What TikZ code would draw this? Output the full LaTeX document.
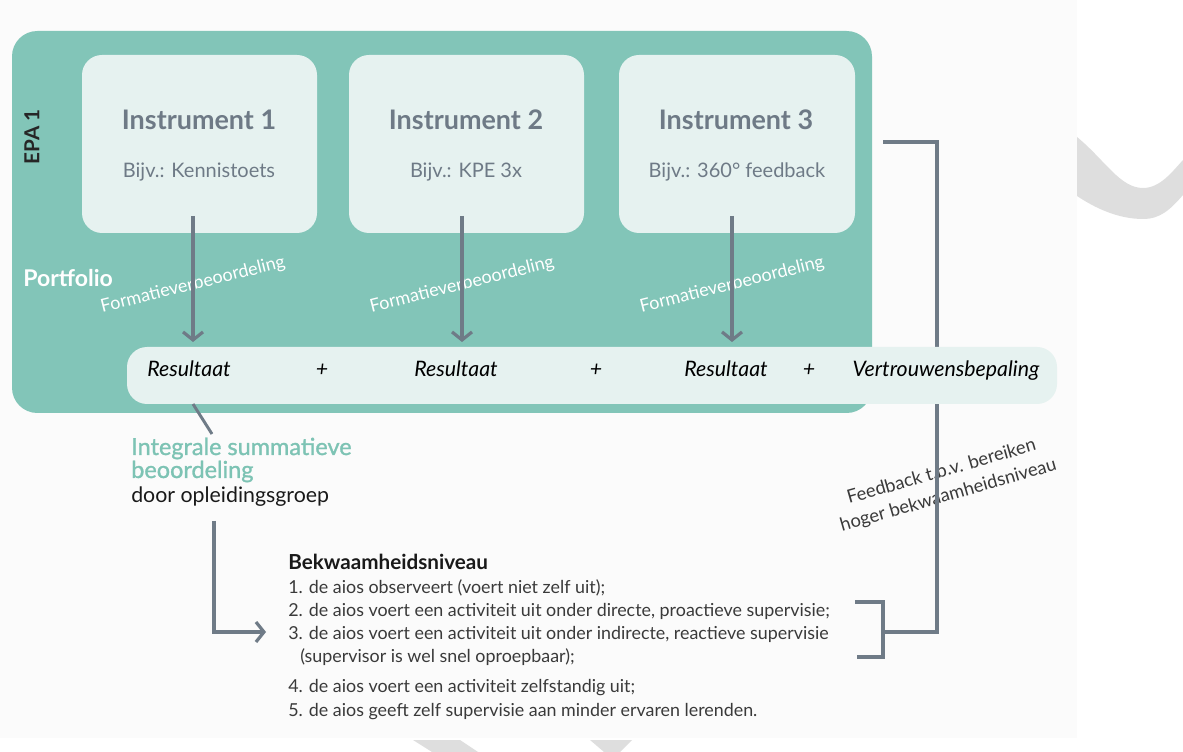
\documentclass[tikz,border=0pt]{standalone}
\usepackage{fontspec}
\setmainfont{Lato}
\newfontfamily\latosemi[FakeBold=1.2]{Lato}
\usetikzlibrary{arrows.meta,fit}
\definecolor{panelgreen}{HTML}{82C5B8}
\definecolor{boxlight}{HTML}{E6F2F0}
\definecolor{linegrey}{HTML}{6F7B87}
\definecolor{instrtext}{HTML}{6E7A86}
\definecolor{bodytext}{HTML}{3A3A3A}
\definecolor{intgreen}{HTML}{7DC3B4}
\definecolor{wmgrey}{HTML}{DEDEDE}
\definecolor{bgoff}{HTML}{FBFBFB}
\tikzset{
  instrbox/.style={fill=boxlight, rounded corners=15pt, inner sep=0pt},
  instrtitle/.style={font=\fontsize{20.2}{23}\selectfont\bfseries, text=instrtext, anchor=base},
  instrsub/.style={font=\fontsize{15}{18}\selectfont, text=instrtext, anchor=base},
  formtext/.style={font=\fontsize{13.5}{16}\selectfont, text=white, rotate=14},
  bartext/.style={font=\fontsize{16}{19}\selectfont\itshape, text=black, anchor=base},
  listitem/.style={font=\fontsize{13.4}{15}\selectfont, text=bodytext, anchor=base west, inner sep=0pt},
  greyline/.style={draw=linegrey, line width=2.4pt},
  greyarrow/.style={greyline, -{Straight Barb[length=6pt, width=15pt]}},
}
\begin{document}
\begin{tikzpicture}[x=0.75pt,y=-0.75pt]
\useasboundingbox (0,0) rectangle (1183,752);
\fill[bgoff] (0,0) rectangle (1077,738);
% watermark fragments
\fill[wmgrey] (1077,137) .. controls (1105,160) and (1120,188) .. (1143,188)
  .. controls (1160,188) and (1172,172) .. (1183,160) -- (1183,195)
  .. controls (1170,210) and (1160,219) .. (1143,219)
  .. controls (1118,219) and (1095,208) .. (1077,196) -- cycle;
\fill[wmgrey] (413,740) -- (460,740) -- (478,752) -- (432,752) -- cycle;
\fill[wmgrey] (590,740) -- (632,740) -- (620,752) -- (604,752) -- cycle;

% main panel
\node[fit={(12,31) (872,413)}, inner sep=0pt, fill=panelgreen, rounded corners=19pt] (panel) {};
\node[rotate=90, font=\fontsize{15.5}{18}\selectfont\bfseries, text=black!85] (epa) at (32,137) {EPA 1};
\node[font=\fontsize{17.3}{20}\selectfont\bfseries, text=white, anchor=base west, inner sep=0pt] (portfolio) at (23,287) {Portfolio};

% instrument boxes
\node[instrbox, fit={(82,55) (317,233)}] (i1) {};
\node[instrbox, fit={(349,55) (584,233)}] (i2) {};
\node[instrbox, fit={(619,55) (855,233)}] (i3) {};
\node[instrtitle] (t1) at (199,130) {Instrument 1};
\node[instrtitle] (t2) at (466,130) {Instrument 2};
\node[instrtitle] (t3) at (736,130) {Instrument 3};
\node[instrsub] (s1) at (199,178) {Bijv.: Kennistoets};
\node[instrsub] (s2) at (466,178) {Bijv.: KPE 3x};
\node[instrsub] (s3) at (737,178) {Bijv.: 360° feedback};

% formative labels
\node[formtext] (f1) at (193,285) {Formatieverbeoordeling};
\node[formtext] (f2) at (462,285) {Formatieverbeoordeling};
\node[formtext] (f3) at (732,285) {Formatieverbeoordeling};

% feedback label and line
\node[font=\fontsize{13.8}{18.5}\selectfont, text=bodytext, rotate=16, align=center] (fb) at (945,484) {Feedback t.b.v. bereiken\\hoger bekwaamheidsniveau};
\coordinate (fbtop) at (883,142);
\coordinate (fbcorner) at (937,142);
\coordinate (fbjoin) at (937,632);
\coordinate (brjoin) at (883,632);
\draw[greyline] (fbtop) -- (fbcorner) -- (fbjoin) -- (brjoin);
\draw[greyline] (855,602) -- (883,602) -- (883,657) -- (857,657);

% result bar
\node[fit={(127,347) (1057,404)}, inner sep=0pt, fill=boxlight, rounded corners=15pt] (bar) {};
\node[bartext] (r1) at (189,377) {Resultaat};
\node[bartext] (p1) at (322,377) {+};
\node[bartext] (r2) at (456,377) {Resultaat};
\node[bartext] (p2) at (596,377) {+};
\node[bartext] (r3) at (726,377) {Resultaat};
\node[bartext] (p3) at (809,377) {+};
\node[bartext] (vb) at (946,377) {Vertrouwensbepaling};

% instrument arrows
\coordinate (a1s) at (193,216); \coordinate (a1e) at (193,342);
\coordinate (a2s) at (462,216); \coordinate (a2e) at (462,342);
\coordinate (a3s) at (732,216); \coordinate (a3e) at (732,342);
\draw[greyarrow] (a1s) -- (a1e);
\draw[greyarrow] (a2s) -- (a2e);
\draw[greyarrow] (a3s) -- (a3e);

% summative assessment
\node[font=\fontsize{17.6}{19}\selectfont\latosemi, text=intgreen, anchor=base west, inner sep=0pt] (integ) at (131,455) {Integrale summatieve};
\node[font=\fontsize{17.6}{19}\selectfont\latosemi, text=intgreen, anchor=base west, inner sep=0pt] (integ2) at (131,478) {beoordeling};
\node[font=\fontsize{16}{18}\selectfont, text=black!90, anchor=base west, inner sep=0pt] (door) at (131,503) {door opleidingsgroep};
\coordinate (diagtop) at (193,404);
\coordinate (diagbot) at (212,434);
\draw[draw=linegrey, line width=2.2pt] (diagtop) -- (diagbot);

\coordinate (elbtop) at (214,521);
\coordinate (elbend) at (266,632);
\draw[greyarrow] (elbtop) |- (elbend);

% competence levels
\node[font=\fontsize{15.5}{18}\selectfont\bfseries, text=black!90, anchor=base west, inner sep=0pt] (bek) at (288,570) {Bekwaamheidsniveau};
\node[listitem] (l1) at (288,593) {1. de aios observeert (voert niet zelf uit);};
\node[listitem] (l2) at (288,616) {2. de aios voert een activiteit uit onder directe, proactieve supervisie;};
\node[listitem] (l3) at (288,639) {3. de aios voert een activiteit uit onder indirecte, reactieve supervisie};
\node[listitem] (l3b) at (300,662) {(supervisor is wel snel oproepbaar);};
\node[listitem] (l4) at (288,692) {4. de aios voert een activiteit zelfstandig uit;};
\node[listitem] (l5) at (288,716) {5. de aios geeft zelf supervisie aan minder ervaren lerenden.};
\end{tikzpicture}
\end{document}
